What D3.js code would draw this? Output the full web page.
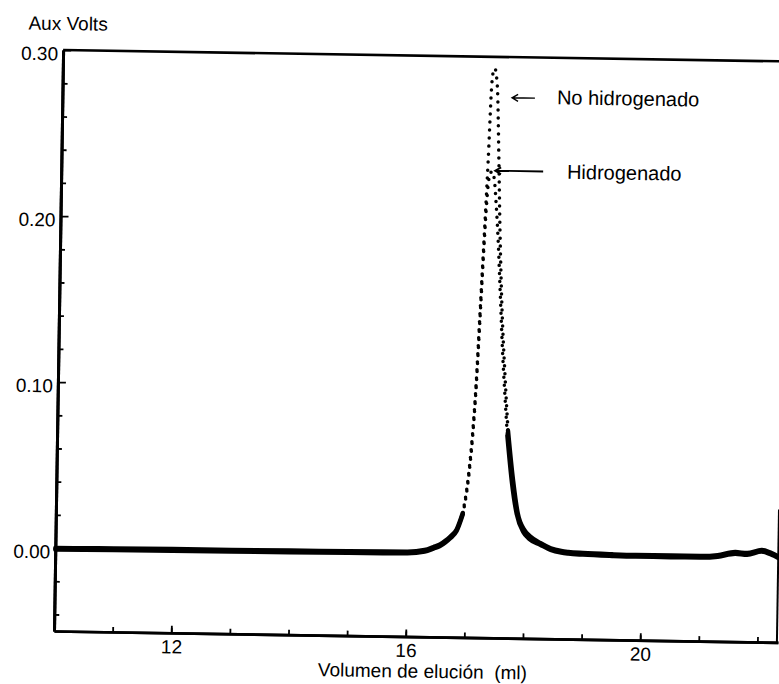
<!DOCTYPE html>
<html><head><meta charset="utf-8">
<script src="https://cdn.jsdelivr.net/npm/d3@7"></script>
<style>
body{margin:0;background:#fff}
svg{display:block;background:#fff}
text{font-family:"Liberation Sans",Arial,sans-serif;fill:#000}
</style>
</head><body>
<svg id="chart" width="779" height="684"></svg>
<script>
// ---- data ----
const xDomain = [10, 22.35];
const yDomain = [-0.05, 0.30];
const xLabelTicks = [12, 16, 20];
const xMinorTicks = [11, 12, 13, 14, 15, 16, 17, 18, 19, 20, 21, 22];
const yLabelTicks = [0.00, 0.10, 0.20, 0.30];
const yMinorTicks = [-0.04, -0.02, 0.02, 0.04, 0.06, 0.08, 0.12, 0.14, 0.16, 0.18, 0.22, 0.24, 0.26, 0.28];
const seriesNames = ["No hidrogenado", "Hidrogenado"];
const xTitle = "Volumen de elución  (ml)";
const yTitle = "Aux Volts";

const nhX = [10.0, 10.5, 11.0, 12.0, 13.0, 14.0, 15.0, 16.0, 16.3, 16.45, 16.56, 16.65, 16.73, 16.84, 16.94, 17.02, 17.09, 17.13, 17.18, 17.23, 17.28, 17.32, 17.35, 17.37, 17.40, 17.42, 17.46, 17.50, 17.55, 17.63, 17.69, 17.79, 17.88, 18.00, 18.09, 18.27, 18.45, 18.63, 18.75, 19.0, 19.5, 19.9, 20.5, 21.0, 21.3, 21.6, 21.8, 22.05, 22.2, 22.35];
const nhY = [0.0000, 0.0002, 0.0003, 0.0005, 0.0005, 0.0007, 0.0009, 0.0011, 0.0023, 0.0042, 0.0058, 0.0080, 0.0105, 0.0150, 0.025, 0.045, 0.075, 0.100, 0.145, 0.190, 0.238, 0.283, 0.292, 0.293, 0.288, 0.280, 0.240, 0.195, 0.152, 0.105, 0.075, 0.045, 0.025, 0.015, 0.0117, 0.0076, 0.0045, 0.003, 0.0025, 0.002, 0.0015, 0.0013, 0.0013, 0.0013, 0.002, 0.004, 0.0035, 0.0055, 0.004, 0.0015];

const hX = [10.0, 11.0, 12.0, 13.0, 14.0, 15.0, 16.0, 16.3, 16.45, 16.56, 16.65, 16.73, 16.84, 16.94, 17.02, 17.09, 17.13, 17.18, 17.23, 17.27, 17.31, 17.35, 17.39, 17.43, 17.47, 17.52, 17.58, 17.63, 17.68, 17.77, 17.86, 17.98, 18.08, 18.27, 18.45, 18.63, 18.75, 19.0, 19.5, 19.9, 20.5, 21.0, 21.3, 21.6, 21.8, 22.05, 22.2, 22.35];
const hY = [-0.0010, -0.0007, -0.0005, -0.0005, -0.0003, -0.0001, 0.0001, 0.0013, 0.0032, 0.0048, 0.0070, 0.0095, 0.0140, 0.024, 0.043, 0.072, 0.097, 0.140, 0.185, 0.215, 0.229, 0.231, 0.226, 0.210, 0.190, 0.158, 0.120, 0.095, 0.072, 0.044, 0.025, 0.014, 0.010, 0.0066, 0.0035, 0.002, 0.0015, 0.001, 0.0005, 0.0003, 0.0003, 0.0003, 0.001, 0.003, 0.0025, 0.0045, 0.003, 0.0005];

// ---- layout ----
const svg = d3.select("#chart");
const x = d3.scaleLinear().domain(xDomain).range([54, 778]);
const y = d3.scaleLinear().domain(yDomain).range([631, 50]);
const g = svg.append("g").attr("transform", "rotate(0.9,54,631)");

// frame: top and partial right border
g.append("line").attr("x1", x(xDomain[0])).attr("x2", x(xDomain[1]))
  .attr("y1", y(yDomain[1])).attr("y2", y(yDomain[1]))
  .attr("stroke", "#000").attr("stroke-width", 2.6);
g.append("line").attr("x1", x(xDomain[1]) - 1).attr("x2", x(xDomain[1]) - 1)
  .attr("y1", y(0.03)).attr("y2", y(yDomain[0]))
  .attr("stroke", "#000").attr("stroke-width", 2);

// axes
const fs = 19;
const yMinor = g.append("g").attr("transform", `translate(${x(xDomain[0])},0)`)
  .call(d3.axisLeft(y).tickValues(yMinorTicks).tickSize(-5).tickSizeOuter(0).tickFormat(""));
const yMajor = g.append("g").attr("transform", `translate(${x(xDomain[0])},0)`)
  .call(d3.axisLeft(y).tickValues(yLabelTicks).tickSize(-8).tickSizeOuter(0).tickPadding(5).tickFormat(d3.format(".2f")));
const xMinor = g.append("g").attr("transform", `translate(0,${y(yDomain[0])})`)
  .call(d3.axisBottom(x).tickValues(xMinorTicks).tickSize(-5).tickSizeOuter(0).tickFormat(""));
const xMajor = g.append("g").attr("transform", `translate(0,${y(yDomain[0])})`)
  .call(d3.axisBottom(x).tickValues(xLabelTicks).tickSize(-7).tickSizeOuter(0).tickPadding(7).tickFormat(d3.format("d")));

[yMinor, yMajor, xMinor, xMajor].forEach(a => {
  a.selectAll(".tick line").attr("stroke", "#000").attr("stroke-width", 1.8);
  a.selectAll("text").attr("font-size", fs).style("font-family", '"Liberation Sans",Arial,sans-serif').attr("fill", "#000");
});
yMajor.selectAll("text").attr("dy", "0.52em");
yMajor.select(".domain").attr("stroke", "#000").attr("stroke-width", 3);
yMinor.select(".domain").attr("stroke", "#000").attr("stroke-width", 3);
xMajor.select(".domain").attr("stroke", "#000").attr("stroke-width", 2.6);
xMinor.select(".domain").attr("stroke", "#000").attr("stroke-width", 2.6);

// titles
g.append("text").attr("x", 19).attr("y", 30).attr("font-size", fs).text(yTitle);
g.append("text").attr("x", 423).attr("y", 672).attr("font-size", fs).attr("text-anchor", "middle")
  .style("white-space", "pre").text(xTitle);

// series
const line = d3.line().x(d => x(d[0])).y(d => y(d[1])).curve(d3.curveMonotoneX);
function drawSeries(xs, ys, thrL, thrR) {
  const pts = xs.map((v, i) => [v, ys[i]]);
  const iMax = d3.maxIndex(pts, p => p[1]);
  let first = pts.findIndex(p => p[1] > thrL);
  let last = iMax;
  for (let i = iMax; i < pts.length; i++) { if (pts[i][1] > thrR) last = i; else break; }
  const left = pts.slice(0, first);
  const peak = pts.slice(first - 1, last + 2);
  const right = pts.slice(last + 1);
  [left, right].forEach(seg => {
    g.append("path").attr("d", line(seg)).attr("fill", "none")
      .attr("stroke", "#000").attr("stroke-width", 4.4)
      .attr("stroke-linejoin", "round").attr("stroke-linecap", "round");
  });
  g.append("path").attr("d", line(peak)).attr("fill", "none")
    .attr("stroke", "#000").attr("stroke-width", 3.5)
    .attr("stroke-linecap", "round").attr("stroke-dasharray", "0 8");
}
drawSeries(nhX, nhY, 0.035, 0.08);
drawSeries(hX, hY, 0.035, 0.08);

// annotations
function arrow(x0, x1, v, w) {
  const hx = x(x0), tx = x(x1), yy = y(v);
  g.append("path")
    .attr("d", `M${tx},${yy}L${hx},${yy}M${hx + 6},${yy - 3.5}L${hx},${yy}L${hx + 6},${yy + 3.5}`)
    .attr("fill", "none").attr("stroke", "#000").attr("stroke-width", w);
}
arrow(17.67, 18.06, 0.2755, 1.4);
g.append("text").attr("x", x(18.436)).attr("y", y(0.272)).attr("font-size", 20).text(seriesNames[0]);
arrow(17.40, 18.22, 0.2314, 1.8);
g.append("text").attr("x", x(18.627)).attr("y", y(0.2272)).attr("font-size", 20).text(seriesNames[1]);
</script>
</body></html>
